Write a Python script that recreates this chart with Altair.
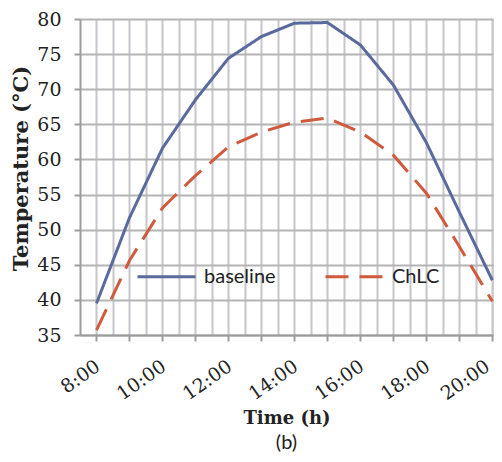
import altair as alt
import pandas as pd

hours = [8, 9, 10, 11, 12, 13, 14, 15, 16, 17, 18, 19, 20]
baseline = [39.5, 51.7, 61.6, 68.5, 74.4, 77.5, 79.4, 79.5, 76.3, 70.6, 62.4, 52.5, 42.8]
chlc = [35.7, 45.6, 53.1, 57.7, 61.8, 63.9, 65.3, 65.9, 63.9, 60.6, 55.2, 47.6, 39.8]
series = ["baseline", "ChLC"]
y_ticks = [35, 40, 45, 50, 55, 60, 65, 70, 75, 80]
x_grid = [8 + 0.5 * i for i in range(25)]

rows = []
for h, b, c in zip(hours, baseline, chlc):
    rows.append({"hour": h, "temp": b, "series": "baseline"})
    rows.append({"hour": h, "temp": c, "series": "ChLC"})
df = pd.DataFrame(rows)

SERIF = "DejaVu Serif"
SANS = "Lato"

legend_cfg = dict(
    orient="none",
    legendX=56,
    legendY=227,
    direction="horizontal",
    title=None,
    symbolType="stroke",
    symbolSize=3364,
    symbolStrokeWidth=3,
    labelFont=SANS,
    labelFontSize=20,
    labelColor="#222222",
    labelOffset=7,
    columnPadding=43,
    padding=0,
)

chart = alt.Chart(df).mark_line(strokeWidth=3).encode(
    x=alt.X(
        "hour:Q",
        scale=alt.Scale(domain=[7.5, 20.02], nice=False, zero=False),
        axis=alt.Axis(
            values=x_grid,
            labelExpr="datum.value % 2 == 0 ? format(datum.value, 'd') + ':00' : ''",
            labelAngle=325,
            labelAlign="right",
            labelBaseline="middle",
            labelPadding=23,
            labelOffset={"condition": {"test": "datum.value >= 20", "value": -5}, "value": 1},
            labelFont=SERIF,
            labelFontSize=19,
            labelColor="#222222",
            labelOverlap=False,
            tickColor={"condition": {"test": "datum.value % 1 == 0", "value": "#9c9c9c"}, "value": "transparent"},
            tickSize=6,
            tickWidth=2,
            grid=True,
            gridColor="#c6c6cb",
            gridWidth=2,
            domainColor="#9c9c9c",
            domainWidth=2,
            title="Time (h)",
            titleFont=SERIF,
            titleFontSize=18,
            titleFontWeight="bold",
            titleColor="#222222",
            titlePadding=6,
        ),
    ),
    y=alt.Y(
        "temp:Q",
        scale=alt.Scale(domain=[35, 80], nice=False, zero=False),
        axis=alt.Axis(
            values=y_ticks,
            labelFont=SERIF,
            labelFontSize=19,
            labelColor="#222222",
            labelPadding=13,
            tickColor="#9c9c9c",
            tickSize=6,
            tickWidth=2,
            grid=True,
            gridColor="#b4b4b4",
            gridWidth=2,
            domainColor="#9c9c9c",
            domainWidth=2,
            title="Temperature (°C)",
            titleFont=SERIF,
            titleFontSize=21,
            titleFontWeight="bold",
            titleColor="#222222",
            titleX=-59,
            titleY=149,
            titleAngle=270,
            titleAlign="center",
            titleBaseline="middle",
        ),
    ),
    color=alt.Color(
        "series:N",
        scale=alt.Scale(domain=series, range=["#5a6a9c", "#cf5a3d"]),
        legend=alt.Legend(**legend_cfg),
    ),
    strokeDash=alt.StrokeDash(
        "series:N",
        scale=alt.Scale(domain=series, range=[[1, 0], [23, 11]]),
        legend=alt.Legend(**legend_cfg),
    ),
).properties(
    width=413,
    height=316,
    autosize=alt.AutoSizeParams(type="none"),
    padding={"left": 72, "top": 11, "right": 1, "bottom": 118},
    title=alt.TitleParams(
        text="(b)",
        orient="bottom",
        anchor="middle",
        font=SANS,
        fontSize=20,
        fontWeight="normal",
        color="#222222",
        offset=5,
    ),
).configure_view(stroke=None).configure(background="white")

chart.save("out.html", embed_options={"renderer": "svg", "actions": False})
